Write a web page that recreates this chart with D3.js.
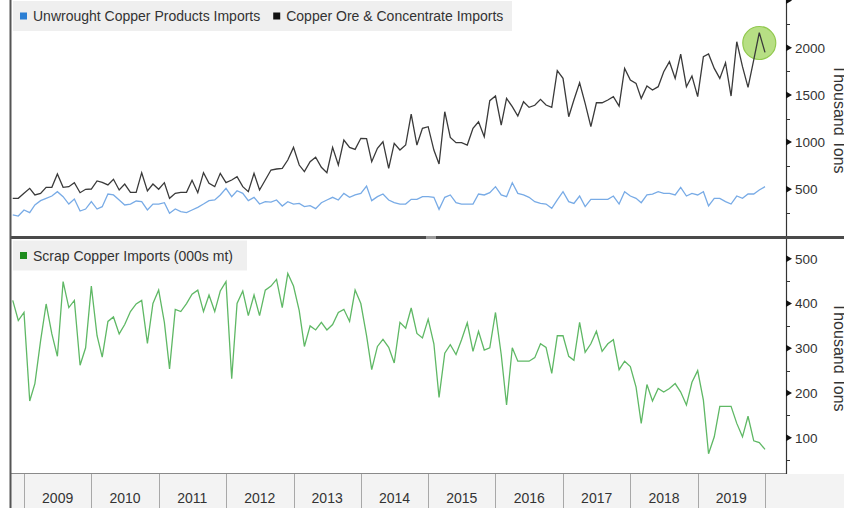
<!DOCTYPE html>
<html>
<head>
<meta charset="utf-8">
<script src="https://cdn.jsdelivr.net/npm/d3@7/dist/d3.min.js"></script>
<style>
  html, body { margin: 0; padding: 0; background: #fff; }
  svg { display: block; font-family: "Liberation Sans", Arial, sans-serif; }
</style>
</head>
<body>
<div id="chart"></div>
<script>
// monthly values, first one is Oct 2008 (plotted at month end)
const firstMonth = new Date(2008, 10, 1);
const years = [2009, 2010, 2011, 2012, 2013, 2014, 2015, 2016, 2017, 2018, 2019];

const unwroughtImports = [228, 217, 281, 253, 334, 380, 404, 429, 475, 422, 344, 397, 270, 291, 369, 291, 316, 450, 440, 387, 334, 344, 376, 369,
    281, 344, 344, 358, 246, 291, 263, 253, 281, 309, 344, 380, 387, 440, 510, 422, 485, 457, 380, 415, 344, 369, 365, 387,
    323, 369, 344, 351, 316, 327, 295, 358, 387, 415, 387, 457, 415, 440, 457, 535, 380, 422, 450, 387, 358, 344, 344, 394,
    394, 422, 422, 415, 288, 415, 440, 358, 344, 344, 344, 450, 440, 464, 528, 440, 422, 570, 457, 440,
    415, 369, 351, 344, 298, 387, 475, 369, 351, 429, 316, 394, 394, 394, 394, 429, 344, 475, 429, 404, 358, 440, 450, 475,
    457, 457, 440, 521, 429, 457, 440, 475, 323, 404, 404, 369, 344, 429, 404, 450, 450, 493, 528];

const oreImports = [404, 404, 457, 510, 440, 457, 521, 521, 662, 521, 528, 570, 464, 500, 503, 588, 574, 546, 606, 493, 556, 468, 468, 676,
    482, 556, 500, 570, 404, 457, 468, 468, 595, 464, 676, 563, 528, 669, 570, 598, 634, 528, 475, 669, 493, 598, 704, 715,
    722, 810, 944, 757, 687, 793, 839, 733, 676, 944, 757, 1022, 944, 923, 1040, 1036, 793, 934, 1004, 722, 987, 916, 969, 1297,
    969, 1146, 1163, 916, 768, 1322, 1050, 994, 994, 969, 1146, 1216, 1057, 1439, 1488, 1181, 1463, 1375, 1276, 1428,
    1368, 1390, 1453, 1393, 1368, 1756, 1675, 1269, 1446, 1629, 1410, 1163, 1417, 1417, 1446, 1481, 1382, 1781, 1657, 1622,
    1463, 1594, 1552, 1587, 1746, 1852, 1675, 1933, 1587, 1700, 1481, 1905, 1933, 1781, 1675, 1841, 1488, 2063, 1799, 1580,
    1870, 2159, 1950];

const scrapImports = [407, 362, 380, 182, 221, 317, 399, 332, 282, 449, 391, 407, 262, 301, 439, 328, 280, 360, 370, 332, 353, 382, 399, 407,
    311, 400, 430, 358, 254, 387, 382, 400, 421, 430, 382, 419, 382, 428, 449, 232, 400, 428, 373, 419, 373, 430, 439, 454,
    391, 467, 439, 384, 304, 350, 341, 358, 341, 353, 380, 387, 360, 430, 400, 328, 252, 304, 320, 302, 267, 358, 345, 390,
    333, 323, 365, 310, 190, 289, 308, 286, 319, 357, 293, 338, 296, 301, 380, 286, 173, 301, 271, 271, 271, 279, 310,
    302, 244, 328, 328, 282, 273, 358, 291, 310, 338, 293, 310, 319, 252, 271, 259, 213, 132, 219, 182, 210, 202, 210, 221,
    202, 173, 224, 250, 184, 64, 102, 170, 170, 170, 132, 102, 148, 93, 89, 74];

const topTicks = [500, 1000, 1500, 2000];
const topMinor = [250, 750, 1250, 1750, 2250];
const bottomTicks = [100, 200, 300, 400, 500];
const bottomMinor = [50, 150, 250, 350, 450];

const width = 844, height = 508;
const axisX = 786;

const dates = unwroughtImports.map((_, i) => d3.timeMonth.offset(firstMonth, i));

const svg = d3.select("#chart").append("svg").attr("width", width).attr("height", height);

const x = d3.scaleTime().domain([new Date(2009, 0, 1), new Date(2020, 0, 1)]).range([24, 765]);
const yTop = d3.scaleLinear().domain([500, 2000]).range([189.3, 47.7]);
const yBot = d3.scaleLinear().domain([100, 500]).range([437.7, 258.8]);

// clip paths for the two panes
const defs = svg.append("defs");
defs.append("clipPath").attr("id", "clipTop").append("rect").attr("x", 11).attr("y", 0).attr("width", axisX - 11).attr("height", 236);
defs.append("clipPath").attr("id", "clipBot").append("rect").attr("x", 11).attr("y", 239).attr("width", axisX - 11).attr("height", 234);

// date strip at the bottom
svg.append("rect").attr("x", 11).attr("y", 474).attr("width", width - 11).attr("height", 34).attr("fill", "#f3f3f3");
svg.append("line").attr("x1", 10).attr("x2", axisX).attr("y1", 473.5).attr("y2", 473.5).attr("stroke", "#8a8a8a");

const yearEdges = years.concat([2020]).map(y => new Date(y, 0, 1));
svg.append("g").selectAll("line").data(yearEdges).join("line")
    .attr("x1", d => Math.round(x(d)) + 0.5).attr("x2", d => Math.round(x(d)) + 0.5)
    .attr("y1", 474).attr("y2", height).attr("stroke", "#a8a8a8");
svg.append("g").selectAll("text").data(years).join("text")
    .attr("x", d => (x(new Date(d, 0, 1)) + x(new Date(d + 1, 0, 1))) / 2)
    .attr("y", 503).attr("text-anchor", "middle").attr("font-size", 14).attr("fill", "#333")
    .text(d => d);

// highlight circle on the latest ore peak
svg.append("circle")
    .attr("cx", x(dates[133])).attr("cy", yTop(2050)).attr("r", 16.5)
    .attr("fill", "#b7df84").attr("stroke", "#92c94f").attr("stroke-width", 1.2);

// lines
const topG = svg.append("g").attr("clip-path", "url(#clipTop)");
const botG = svg.append("g").attr("clip-path", "url(#clipBot)");

const lineTop = d3.line().x((d, i) => x(dates[i])).y(d => yTop(d));
const lineBot = d3.line().x((d, i) => x(dates[i])).y(d => yBot(d));

topG.append("path").datum(unwroughtImports).attr("d", lineTop).attr("fill", "none").attr("stroke", "#78abe6").attr("stroke-width", 1.3);
topG.append("path").datum(oreImports).attr("d", lineTop).attr("fill", "none").attr("stroke", "#3a3a3a").attr("stroke-width", 1.3);
botG.append("path").datum(scrapImports).attr("d", lineBot).attr("fill", "none").attr("stroke", "#5fb865").attr("stroke-width", 1.3);

// right axes
function drawAxis(scale, major, minor, y0, y1, markers) {
    const g = svg.append("g");
    g.append("line").attr("x1", axisX + 0.5).attr("x2", axisX + 0.5).attr("y1", y0).attr("y2", y1).attr("stroke", "#333").attr("stroke-width", 1.2);
    g.append("g").selectAll("line").data(minor).join("line")
        .attr("x1", axisX).attr("x2", axisX + 4).attr("y1", d => Math.round(scale(d)) + 0.5).attr("y2", d => Math.round(scale(d)) + 0.5)
        .attr("stroke", "#333");
    g.append("g").selectAll("path").data(markers).join("path")
        .attr("d", d => { const yy = scale(d); return `M${axisX},${yy - 3.5}L${axisX + 6},${yy}L${axisX},${yy + 3.5}Z`; })
        .attr("fill", "#111");
    g.append("g").selectAll("text").data(major).join("text")
        .attr("x", axisX + 9).attr("y", d => scale(d)).attr("dy", "0.36em")
        .attr("font-size", 13.5).attr("fill", "#333").text(d => d);
}
drawAxis(yTop, topTicks, topMinor, 0, 236, topTicks.concat([2500]));
drawAxis(yBot, bottomTicks, bottomMinor, 239, 474, bottomTicks);

// axis titles, half cut off by the right edge
svg.append("text").attr("transform", "translate(834,119) rotate(90)").attr("text-anchor", "middle")
    .attr("font-size", 16).attr("fill", "#333").text("Thousand Tons");
svg.append("text").attr("transform", "translate(834,357) rotate(90)").attr("text-anchor", "middle")
    .attr("font-size", 16).attr("fill", "#333").text("Thousand Tons");

// pane separator and left frame
svg.append("rect").attr("x", 10).attr("y", 236).attr("width", width - 10).attr("height", 3).attr("fill", "#4a4a4a");
svg.append("rect").attr("x", 426).attr("y", 236).attr("width", 10).attr("height", 3).attr("fill", "#9a9a9a");
svg.append("line").attr("x1", 10.5).attr("x2", 10.5).attr("y1", 0).attr("y2", height).attr("stroke", "#555").attr("stroke-width", 2);

// legends
function legend(y, items, boxW) {
    const g = svg.append("g");
    g.append("rect").attr("x", 13).attr("y", y).attr("width", boxW).attr("height", 30).attr("fill", "#efefef");
    let cx = 20;
    items.forEach(it => {
        g.append("rect").attr("x", cx).attr("y", y + 11.5).attr("width", 7).attr("height", 7).attr("fill", it.color);
        const t = g.append("text").attr("x", cx + 13).attr("y", y + 20).attr("font-size", 14).attr("fill", "#333").text(it.name);
        cx += 13 + t.node().getComputedTextLength() + 13;
    });
}
legend(1, [{name: "Unwrought Copper Products Imports", color: "#2b7fd4"}, {name: "Copper Ore & Concentrate Imports", color: "#111"}], 499);
legend(240.5, [{name: "Scrap Copper Imports (000s mt)", color: "#1e8c1e"}], 234);
</script>
</body>
</html>
